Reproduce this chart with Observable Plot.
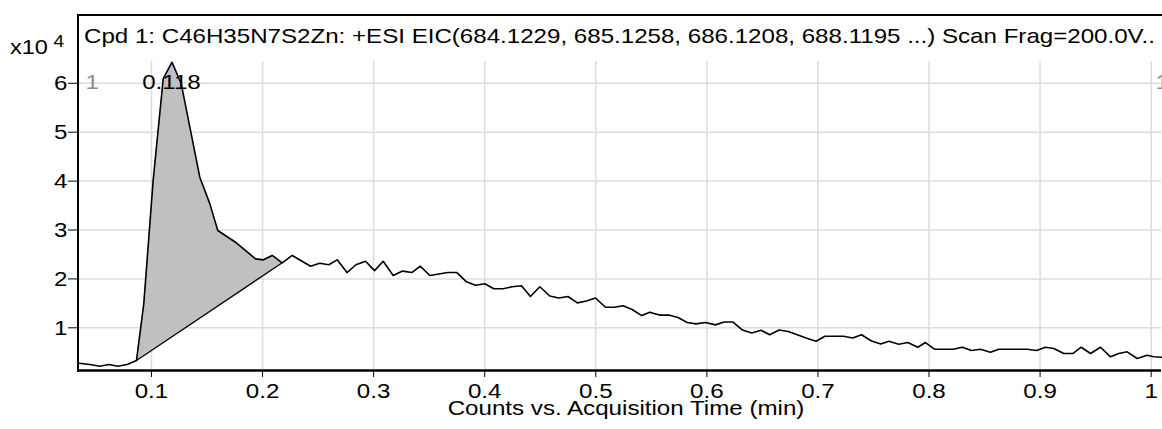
<!DOCTYPE html>
<html>
<head>
<meta charset="utf-8">
<script src="https://cdn.jsdelivr.net/npm/d3@7"></script>
<script src="https://cdn.jsdelivr.net/npm/@observablehq/plot@0.6"></script>
<style>
  html, body { margin: 0; padding: 0; background: #fff; }
  #wrap { position: relative; width: 1162px; height: 429px; overflow: hidden; font-family: "Liberation Sans", Arial, Helvetica, sans-serif; }
  #wrap svg { position: absolute; left: 0; top: 0; }
  #frame { position: absolute; left: 77px; top: 14px; width: 1090px; height: 356px; border-top: 2px solid #000; border-left: 2px solid #000; pointer-events: none; }
  #title { position: absolute; left: 84px; top: 24px; font-size: 21px; line-height: 24px; white-space: nowrap; color: #000; transform: scaleX(1.148); transform-origin: 0 0; }
  #mult { position: absolute; left: 10px; top: 35px; font-size: 21px; line-height: 24px; color: #000; white-space: nowrap; transform: scaleX(1.12); transform-origin: 0 0; }
  #mult sup { font-size: 17px; position: relative; top: -5px; vertical-align: top; margin-left: 5px; }
</style>
</head>
<body>
<div id="wrap">
  <div id="frame"></div>
  <div id="title"></div>
  <div id="mult">x10<sup>4</sup></div>
</div>
<script>
// Acquisition time (min)
const times = [0.0346,0.0445,0.0535,0.0616,0.0697,0.0781,0.0865,0.0931,0.1015,0.1106,0.1185,0.1268,0.1435,0.1525,0.1597,0.1756,0.1937,0.2008,0.2087,0.2177,0.2267,0.2432,0.2515,0.2596,0.2672,0.2760,0.2841,0.2927,0.3008,0.3086,0.3176,0.3260,0.3344,0.3419,0.3506,0.3587,0.3669,0.3749,0.3836,0.3917,0.4001,0.4082,0.4166,0.4247,0.4331,0.4412,0.4496,0.4586,0.4667,0.4750,0.4833,0.4915,0.4997,0.5087,0.5167,0.5245,0.5323,0.5414,0.5486,0.5572,0.5657,0.5740,0.5823,0.5902,0.5988,0.6078,0.6156,0.6233,0.6321,0.6404,0.6487,0.6566,0.6651,0.6733,0.6820,0.6900,0.6983,0.7063,0.7230,0.7313,0.7392,0.7482,0.7566,0.7638,0.7728,0.7809,0.7899,0.7968,0.8049,0.8217,0.8299,0.8382,0.8463,0.8553,0.8628,0.8884,0.8968,0.9049,0.9123,0.9213,0.9294,0.9370,0.9454,0.9544,0.9634,0.9708,0.9784,0.9874,0.9964,1.0023,1.0102];
// Counts (x10^4)
const counts = [0.276,0.249,0.215,0.249,0.215,0.249,0.331,1.497,4.012,6.098,6.431,5.99,4.08,3.54,2.99,2.75,2.41,2.39,2.48,2.33,2.48,2.26,2.32,2.29,2.39,2.13,2.29,2.36,2.17,2.36,2.07,2.16,2.13,2.26,2.07,2.10,2.13,2.13,1.94,1.87,1.90,1.80,1.80,1.84,1.86,1.64,1.84,1.65,1.61,1.64,1.51,1.55,1.61,1.42,1.42,1.45,1.38,1.25,1.32,1.26,1.26,1.21,1.11,1.08,1.11,1.06,1.12,1.12,0.955,0.894,0.951,0.859,0.955,0.924,0.853,0.785,0.726,0.826,0.826,0.791,0.859,0.730,0.669,0.726,0.665,0.699,0.603,0.699,0.562,0.562,0.603,0.536,0.562,0.501,0.562,0.562,0.536,0.603,0.577,0.474,0.474,0.603,0.474,0.603,0.407,0.474,0.509,0.372,0.440,0.407,0.399];

// Integrated peak: start / end of the integration baseline, apex
const peakStartTime = 0.0865;
const peakEndTime = 0.2177;
const peakApexTime = 0.118;
const peakLabel = "0.118";
const peakNumberLabel = "1";

const xTicks = [0.1,0.2,0.3,0.4,0.5,0.6,0.7,0.8,0.9,1.0];
const xTickLabels = ["0.1","0.2","0.3","0.4","0.5","0.6","0.7","0.8","0.9","1"];
const yTicks = [1,2,3,4,5,6];
const yTickLabels = ["1","2","3","4","5","6"];

const titleText = "Cpd 1: C46H35N7S2Zn: +ESI EIC(684.1229, 685.1258, 686.1208, 688.1195 ...) Scan Frag=200.0V..";
const xLabel = "Counts vs. Acquisition Time (min)";

const xDomain = [0.0343, 1.0093];
const yDomain = [0.127, 6.446];

document.getElementById("title").textContent = titleText;

const trace = times.map((t, i) => ({t, c: counts[i]}));
const i0 = times.indexOf(peakStartTime);
const i1 = times.indexOf(peakEndTime);
const b0 = counts[i0], b1 = counts[i1];
const peakArea = trace.slice(i0, i1 + 1).map(d => ({
  t: d.t,
  c: d.c,
  base: b0 + (b1 - b0) * (d.t - peakStartTime) / (peakEndTime - peakStartTime)
}));
const baseline = [{t: peakStartTime, c: b0}, {t: peakEndTime, c: b1}];

const gridColor = "#dcdcdc";

const chart = Plot.plot({
  width: 1162,
  height: 429,
  marginTop: 61,
  marginBottom: 59,
  marginLeft: 78,
  marginRight: 1,
  style: {fontFamily: "'Liberation Sans', Arial, Helvetica, sans-serif", fontSize: "21px", color: "#000", background: "transparent", overflow: "visible"},
  x: {domain: xDomain},
  y: {domain: yDomain},
  marks: [
    Plot.gridX(xTicks, {stroke: gridColor, strokeOpacity: 1, strokeWidth: 1.5}),
    Plot.gridY(yTicks, {stroke: gridColor, strokeOpacity: 1, strokeWidth: 1.5}),
    Plot.areaY(peakArea, {x: "t", y1: "base", y2: "c", fill: "#c0c0c0", curve: "linear"}),
    Plot.line(baseline, {x: "t", y: "c", stroke: "#000", strokeWidth: 1.4}),
    Plot.line(trace, {x: "t", y: "c", stroke: "#000", strokeWidth: 1.6}),
    Plot.ruleY([yDomain[0]], {stroke: "#000", strokeWidth: 2.5}),
    Plot.axisX(xTicks, {tickSize: 7, tickPadding: 6, tickFormat: (d, i) => xTickLabels[i], label: null, stroke: "#000"}),
    Plot.axisY(yTicks, {tickSize: 10, tickPadding: 1, tickFormat: (d, i) => yTickLabels[i], label: null, stroke: "#000"}),
    Plot.text([peakLabel], {x: peakApexTime, frameAnchor: "top", dy: 13, text: d => d, fill: "#000"}),
    Plot.text([peakNumberLabel], {frameAnchor: "top-left", dx: 7, dy: 13, textAnchor: "start", text: d => d, fill: "#8c8c8c"}),
    Plot.text([peakNumberLabel], {frameAnchor: "top-right", dx: -6, dy: 13, textAnchor: "start", text: d => d, fill: "#8c8c8c"}),
    Plot.text([xLabel], {frameAnchor: "bottom", dx: 6, dy: 44, text: d => d, fill: "#000"})
  ]
});

// The reference's glyphs are slightly wider than the font's natural width: stretch each text about its anchor.
const stretch = 1.15;
d3.select(chart).selectAll("text").each(function () {
  const tr = this.getAttribute("transform");
  if (tr) this.setAttribute("transform", `${tr} scale(${stretch},1)`);
});

document.getElementById("wrap").insertBefore(chart, document.getElementById("frame"));
</script>
</body>
</html>
